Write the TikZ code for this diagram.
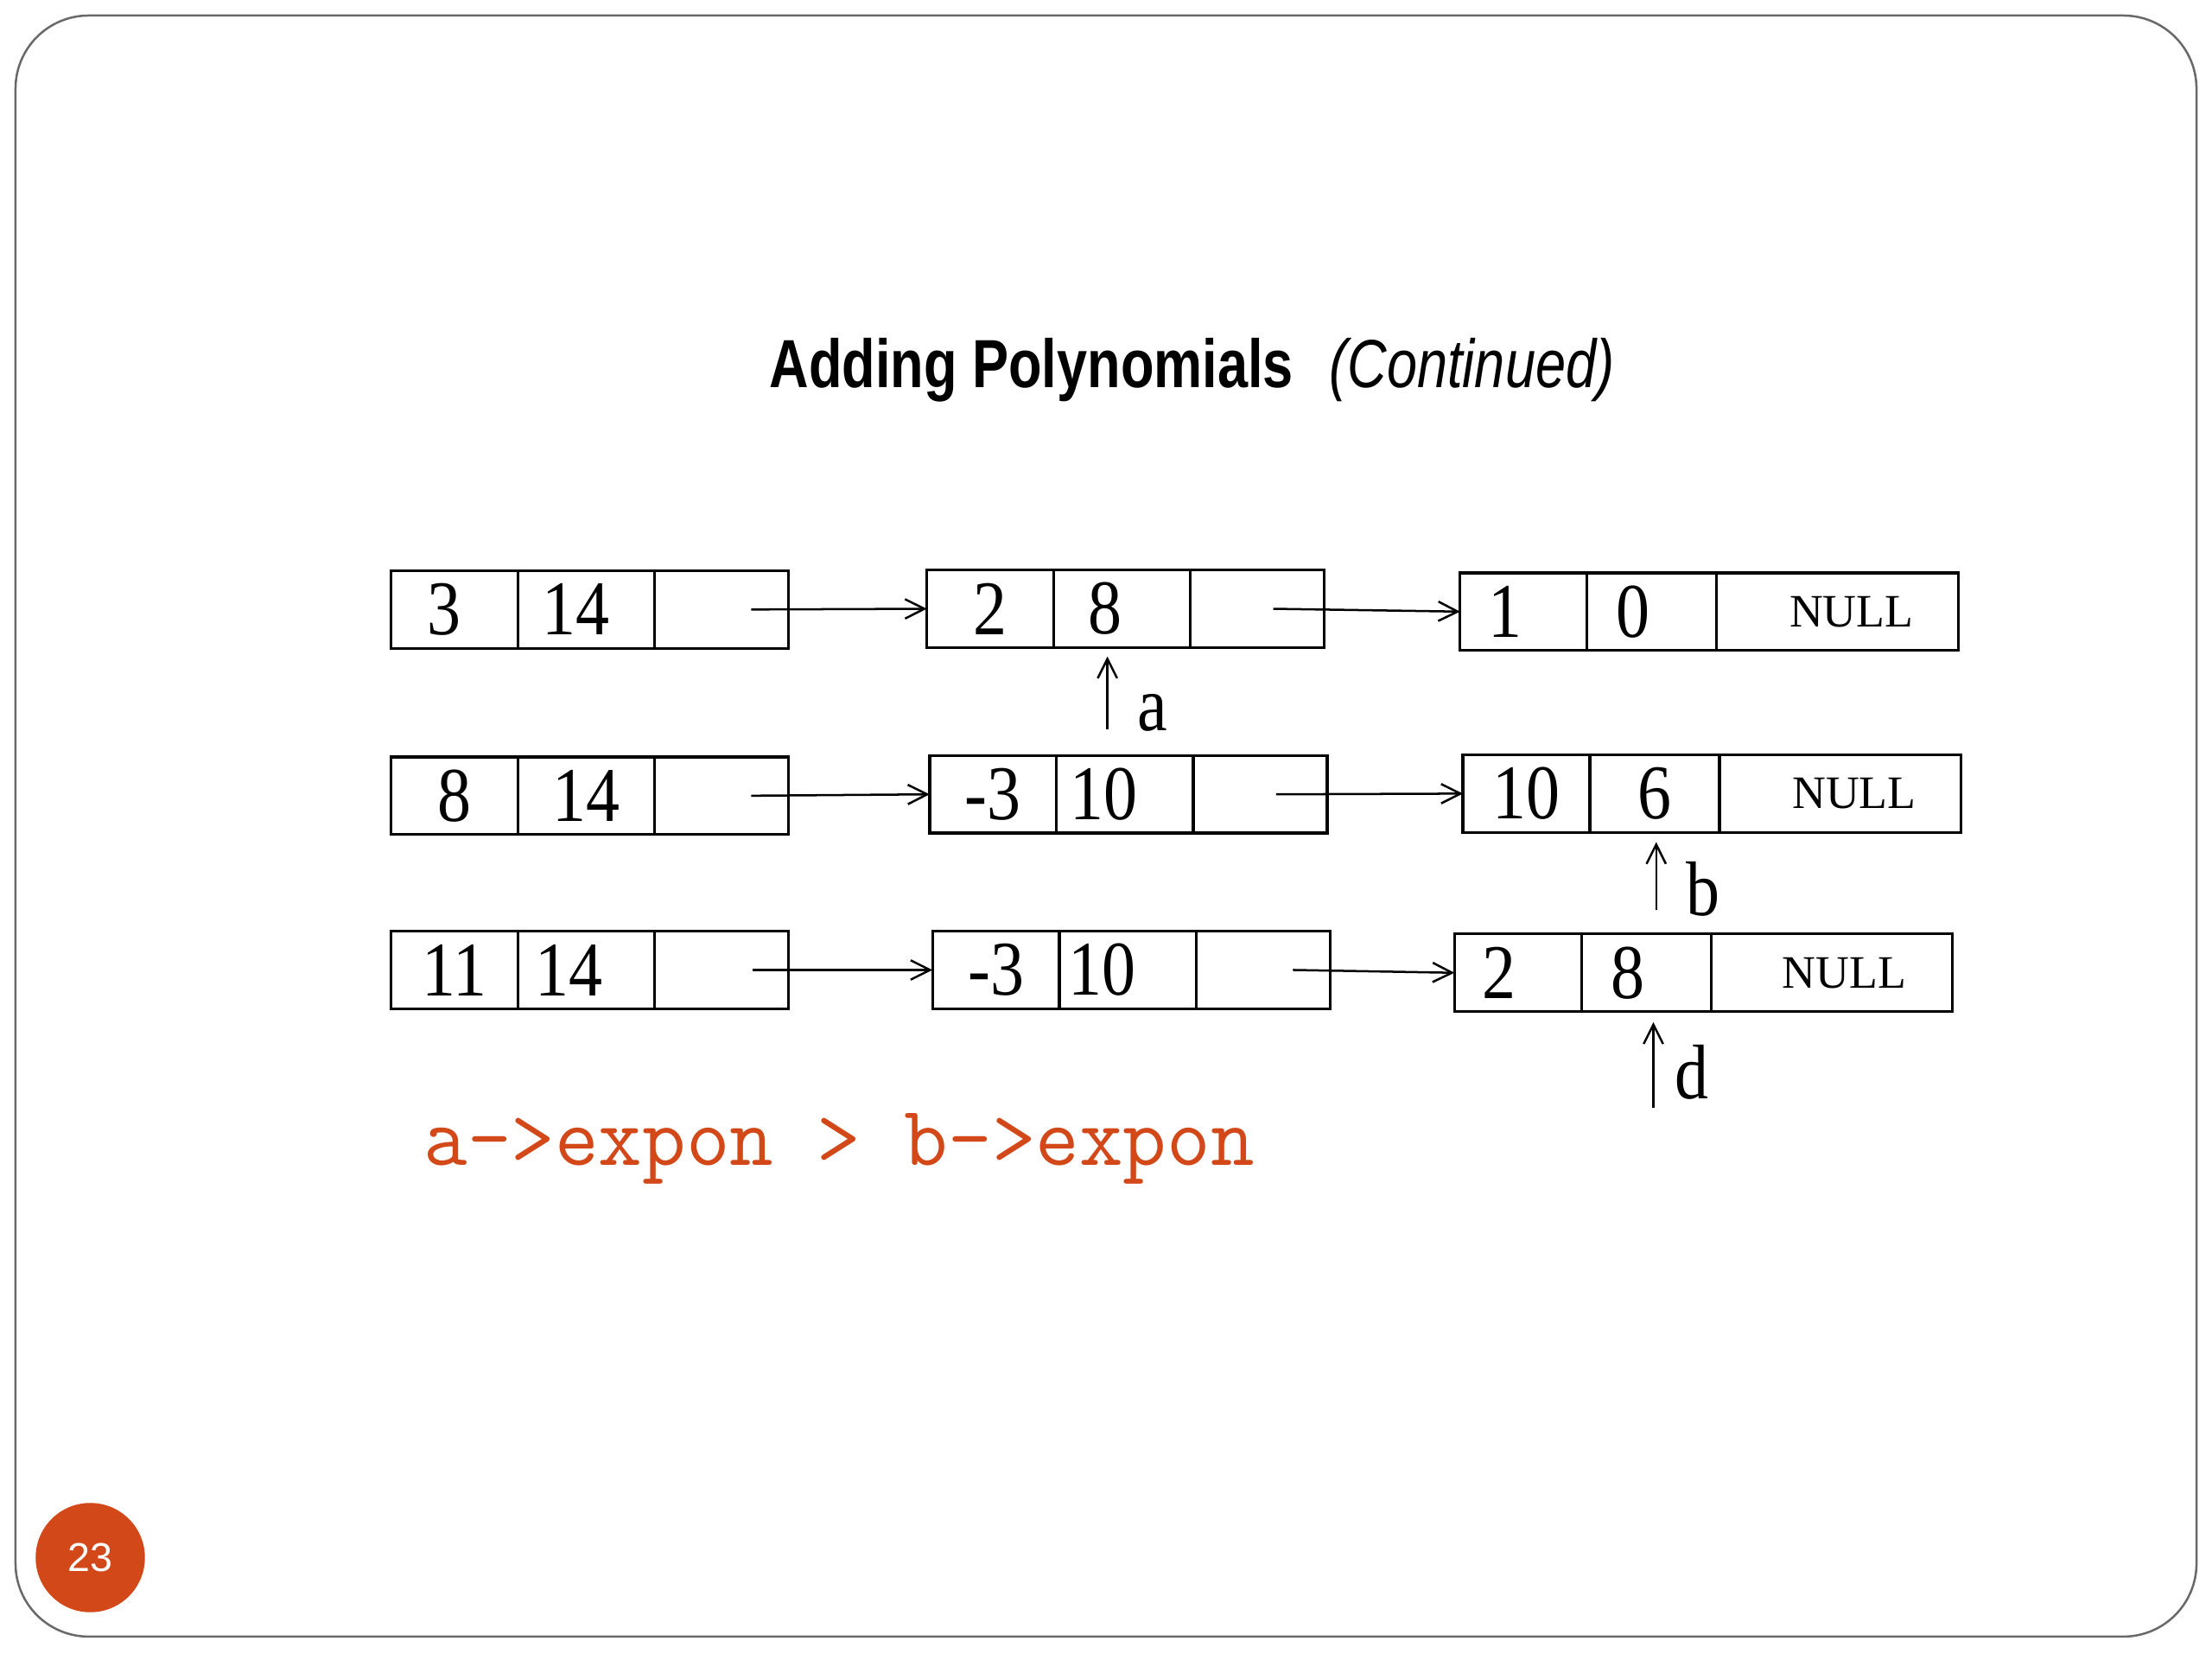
\documentclass[tikz,border=0pt]{standalone}
\usepackage{fontspec}
\setmainfont{Liberation Serif}
\newfontfamily\titlefont[FakeStretch=0.80]{Liberation Sans}
\newfontfamily\digitfont[FakeStretch=0.87]{Liberation Serif}
\newfontfamily\badgefont{Liberation Sans}
\usetikzlibrary{positioning, arrows.meta}
\definecolor{slideorange}{RGB}{210, 72, 24}
\definecolor{framegray}{RGB}{105, 105, 105}

\begin{document}
\begin{tikzpicture}[x=0.016cm, y=-0.016cm, >={Straight Barb[length=2.2mm, width=2.2mm]},
    cell/.style={draw, line width=0.9pt, outer sep=0pt, inner sep=0pt, minimum height=0.88cm,
                 font=\digitfont\fontsize{25}{25}\selectfont},
    coefcell/.style={cell, minimum width=1.44cm},
    expcell/.style={cell, minimum width=1.55cm},
    ptrcell/.style={cell, minimum width=1.52cm},
    nullcell/.style={cell, minimum width=2.74cm, font=\fontsize{15}{15}\selectfont},
    tleft/.style={execute at end node=\hspace*{#1}},
    tright/.style={execute at begin node=\hspace*{#1}},
    link/.style={->, line width=0.7pt},
    ptrname/.style={anchor=base west, inner sep=0pt, font=\digitfont\fontsize{25}{25}\selectfont}]
  \useasboundingbox (0,0) rectangle (1568,1176);
  \draw[framegray, line width=0.7pt, rounded corners=0.83cm] (11,11) rectangle (1557,1160);

  \node[anchor=base west, inner sep=0pt] (title) at (545,275)
        {\titlefont\fontsize{22}{22}\selectfont\bfseries Adding Polynomials};
  \node[anchor=base west, inner sep=0pt] (cont) at (942,275)
        {\titlefont\fontsize{22}{22}\selectfont\itshape (Continued)};

  % list a
  \node[coefcell, anchor=west, tleft=0.22cm] (a1c) at (277,432) {3};
  \node[expcell, right=0pt of a1c, tleft=0.22cm] (a1e) {14};
  \node[ptrcell, right=0pt of a1e] (a1p) {};
  \node[coefcell, anchor=west] (a2c) at (657,431.5) {2};
  \node[expcell, right=0pt of a2c, tleft=0.38cm] (a2e) {8};
  \node[ptrcell, right=0pt of a2e] (a2p) {};
  \node[coefcell, anchor=west, tleft=0.42cm] (a3c) at (1035,433.5) {1};
  \node[expcell, right=0pt of a3c, minimum width=1.47cm, tleft=0.42cm] (a3e) {0};
  \node[nullcell, right=0pt of a3e, tright=0.32cm] (a3p) {NULL};

  % list b
  \node[coefcell, anchor=west] (b1c) at (277,564) {8};
  \node[expcell, right=0pt of b1c] (b1e) {14};
  \node[ptrcell, right=0pt of b1e] (b1p) {};
  \node[coefcell, anchor=west] (b2c) at (659,563) {-3};
  \node[expcell, right=0pt of b2c, tleft=0.48cm] (b2e) {10};
  \node[ptrcell, right=0pt of b2e] (b2p) {};
  \node[coefcell, anchor=west] (b3c) at (1037,562.5) {10};
  \node[expcell, right=0pt of b3c, minimum width=1.47cm] (b3e) {6};
  \node[nullcell, right=0pt of b3e, tright=0.32cm] (b3p) {NULL};

  % list d (sum)
  \node[coefcell, anchor=west] (d1c) at (277,687.5) {11};
  \node[expcell, right=0pt of d1c, tleft=0.38cm] (d1e) {14};
  \node[ptrcell, right=0pt of d1e] (d1p) {};
  \node[coefcell, anchor=west] (d2c) at (661,687.5) {-3};
  \node[expcell, right=0pt of d2c, tleft=0.58cm] (d2e) {10};
  \node[ptrcell, right=0pt of d2e] (d2p) {};
  \node[coefcell, anchor=west, tleft=0.42cm] (d3c) at (1031,689.5) {2};
  \node[expcell, right=0pt of d3c, minimum width=1.47cm, tleft=0.42cm] (d3e) {8};
  \node[nullcell, right=0pt of d3e, tright=0.29cm] (d3p) {NULL};

  \draw[link] ([xshift=-0.42cm]a1p.east) -- (a2c.west);
  \draw[link] ([xshift=-0.58cm]a2p.east) -- (a3c.west);
  \draw[link] ([xshift=-0.42cm]b1p.east) -- (b2c.west);
  \draw[link] ([xshift=-0.58cm]b2p.east) -- (b3c.west);
  \draw[link] ([xshift=-0.40cm]d1p.east) -- (d2c.west);
  \draw[link] ([xshift=-0.42cm]d2p.east) -- (d3c.west);

  % pointers
  \coordinate (pa) at (785,517);
  \coordinate (pb) at (1174,645);
  \coordinate (pd) at (1172,785);
  \draw[link, shorten >=1mm] (pa) -- (pa |- a2e.south);
  \draw[link, shorten >=1.1mm] (pb) -- (pb |- b3e.south);
  \draw[link, shorten >=1.2mm] (pd) -- (pd |- d3e.south);
  \node[ptrname] (la) at (806,518) {a};
  \node[ptrname] (lb) at (1195,649) {b};
  \node[ptrname] (ld) at (1187,779) {d};

  \node[anchor=base west, inner sep=0pt, text=slideorange] (cond) at (300,826)
        {\ttfamily\fontsize{27.4}{27.4}\selectfont a->expon > b->expon};

  \node[circle, fill=slideorange, minimum size=1.24cm, text=white,
        font=\badgefont\fontsize{13}{13}\selectfont] (page) at (64,1104) {23};
\end{tikzpicture}
\end{document}
